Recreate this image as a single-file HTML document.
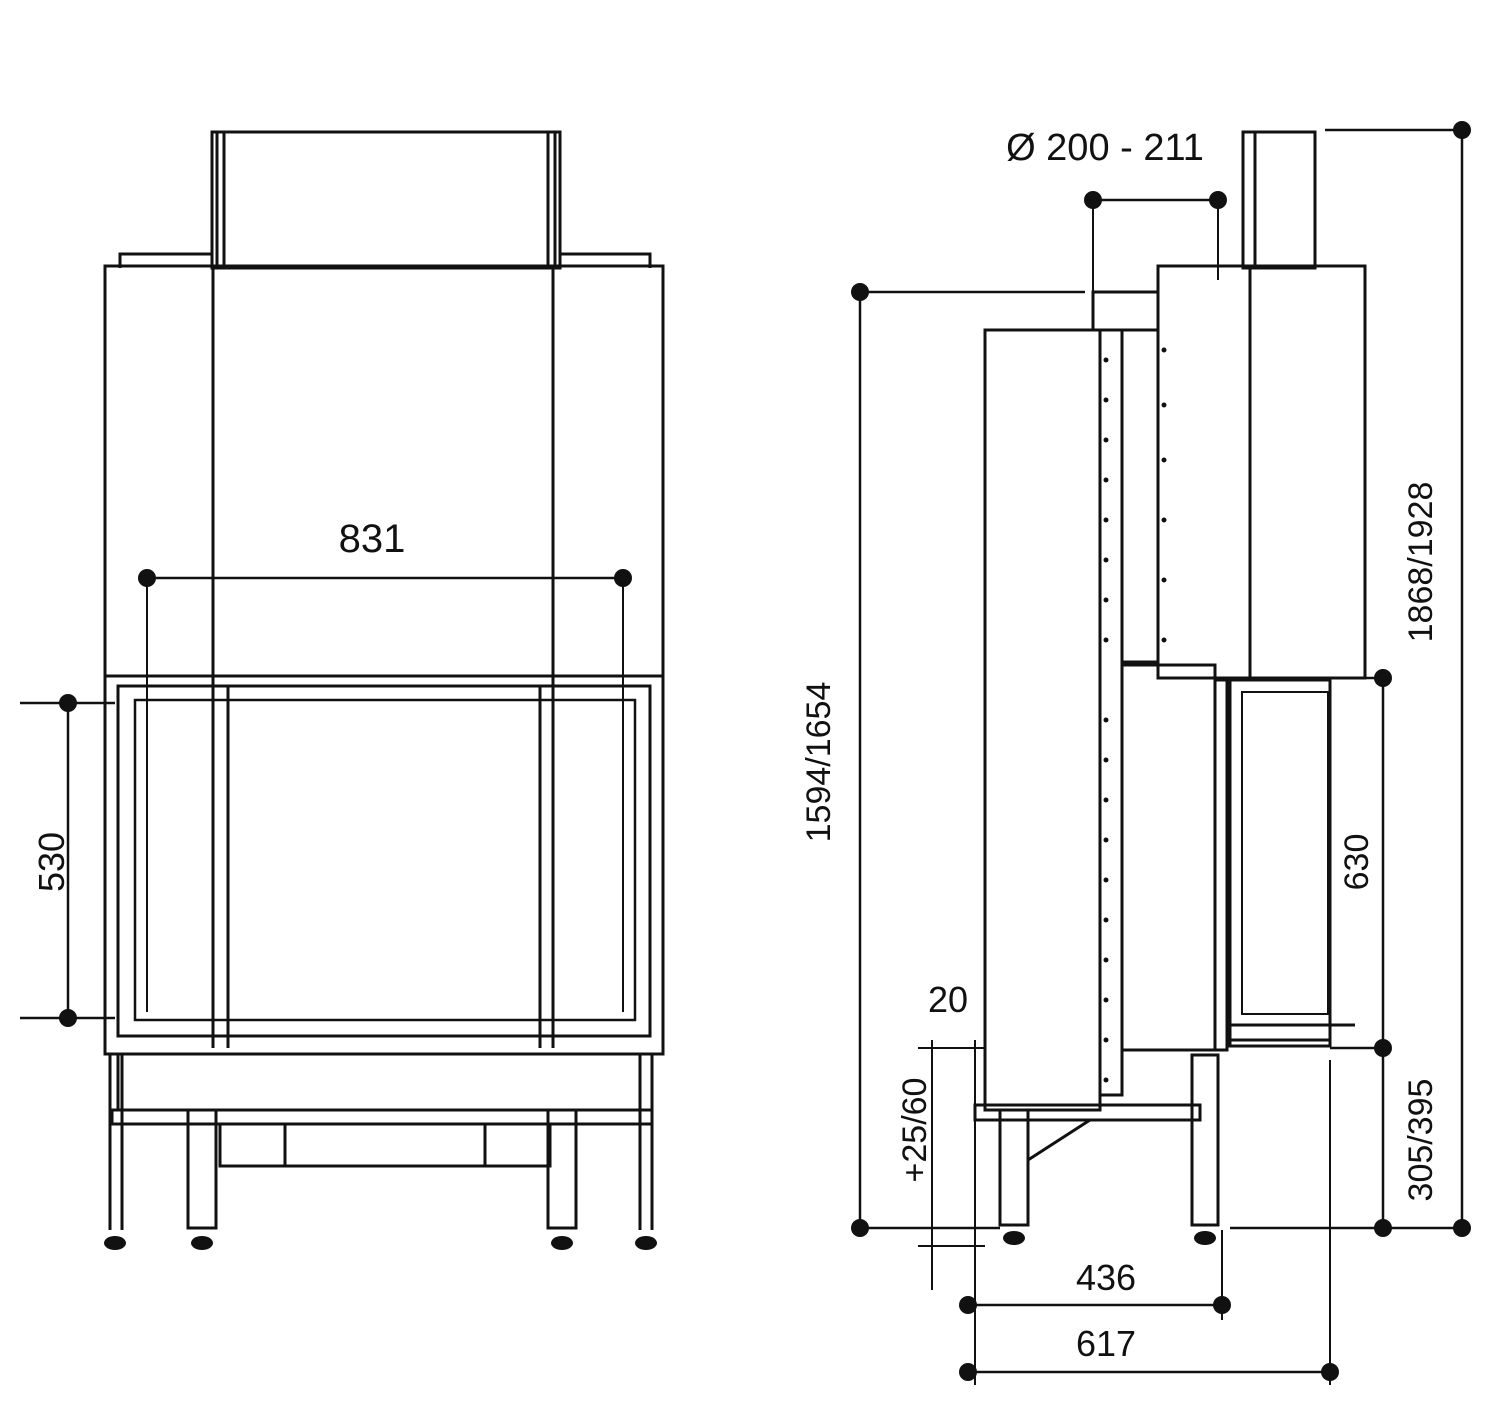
<!DOCTYPE html>
<html><head><meta charset="utf-8"><style>
html,body{margin:0;padding:0;background:#fff;}
svg{display:block}
text{font-family:"Liberation Sans",sans-serif;fill:#111}
</style></head><body>
<svg width="1500" height="1427" viewBox="0 0 1500 1427" xmlns="http://www.w3.org/2000/svg">
<g fill="none" stroke="#111" stroke-width="3">
<!-- LEFT VIEW -->
<rect x="217" y="132" width="338" height="136"/>
<rect x="212" y="132" width="12" height="136"/>
<rect x="548" y="132" width="12" height="136"/>
<polyline points="120,268 120,254 212,254"/>
<polyline points="560,254 650,254 650,268"/>
<rect x="105" y="266" width="558" height="410"/>
<line x1="213" y1="266" x2="213" y2="1048"/>
<line x1="553" y1="266" x2="553" y2="1048"/>
<rect x="105" y="676" width="558" height="378"/>
<rect x="118" y="686" width="532" height="350"/>
<rect x="135" y="700" width="500" height="320" stroke-width="2.5"/>
<line x1="228" y1="686" x2="228" y2="1048"/>
<line x1="540" y1="686" x2="540" y2="1048"/>
<rect x="118" y="1054" width="522" height="56"/>
<rect x="112" y="1110" width="540" height="14"/>
<rect x="220" y="1124" width="330" height="42"/>
<line x1="285" y1="1124" x2="285" y2="1166"/>
<line x1="485" y1="1124" x2="485" y2="1166"/>
<line x1="110" y1="1054" x2="110" y2="1230"/><line x1="122" y1="1054" x2="122" y2="1230"/>
<line x1="640" y1="1054" x2="640" y2="1230"/><line x1="652" y1="1054" x2="652" y2="1230"/>
<rect x="188" y="1110" width="28" height="118"/>
<rect x="548" y="1110" width="28" height="118"/>
<line x1="138" y1="578" x2="628" y2="578" stroke-width="2.5"/>
<line x1="147" y1="578" x2="147" y2="1012" stroke-width="2"/>
<line x1="623" y1="578" x2="623" y2="1012" stroke-width="2"/>
<line x1="20" y1="703" x2="115" y2="703" stroke-width="2.5"/>
<line x1="20" y1="1018" x2="115" y2="1018" stroke-width="2.5"/>
<line x1="68" y1="703" x2="68" y2="1018" stroke-width="2.5"/>

<!-- RIGHT VIEW -->
<rect x="1243" y="132" width="72" height="136"/>
<line x1="1255" y1="132" x2="1255" y2="268"/>
<rect x="1158" y="266" width="207" height="412"/>
<line x1="1250" y1="266" x2="1250" y2="678"/>
<rect x="985" y="330" width="115" height="780"/>
<rect x="1093" y="292" width="65" height="38"/>
<rect x="1100" y="330" width="22" height="765"/>
<rect x="1122" y="330" width="36" height="332"/>
<rect x="1122" y="665" width="93" height="385"/>
<rect x="1215" y="680" width="12" height="370"/>
<rect x="1230" y="680" width="100" height="366"/>
<rect x="1242" y="692" width="86" height="322" stroke-width="2"/>
<line x1="1230" y1="1025" x2="1355" y2="1025"/>
<line x1="1230" y1="1040" x2="1330" y2="1040"/>
<rect x="975" y="1105" width="225" height="15"/>
<rect x="1000" y="1110" width="28" height="115"/>
<rect x="1192" y="1055" width="26" height="170"/>
<polyline points="1028,1160 1090,1120"/>
<line x1="860" y1="292" x2="1085" y2="292" stroke-width="2.5"/>
<line x1="860" y1="292" x2="860" y2="1228" stroke-width="2.5"/>
<line x1="855" y1="1228" x2="1000" y2="1228" stroke-width="2.5"/>
<line x1="1325" y1="130" x2="1462" y2="130" stroke-width="2.5"/>
<line x1="1462" y1="130" x2="1462" y2="1228" stroke-width="2.5"/>
<line x1="1230" y1="1228" x2="1462" y2="1228" stroke-width="2.5"/>
<line x1="1383" y1="678" x2="1383" y2="1228" stroke-width="2.5"/>
<line x1="1340" y1="678" x2="1383" y2="678" stroke-width="2.5"/>
<line x1="1330" y1="1048" x2="1383" y2="1048" stroke-width="2.5"/>
<line x1="1093" y1="200" x2="1218" y2="200" stroke-width="2.5"/>
<line x1="1093" y1="200" x2="1093" y2="292" stroke-width="2"/>
<line x1="1218" y1="200" x2="1218" y2="280" stroke-width="2"/>
<line x1="968" y1="1305" x2="1222" y2="1305" stroke-width="2.5"/>
<line x1="968" y1="1372" x2="1330" y2="1372" stroke-width="2.5"/>
<line x1="975" y1="1040" x2="975" y2="1385" stroke-width="2"/>
<line x1="1222" y1="1230" x2="1222" y2="1320" stroke-width="2"/>
<line x1="1330" y1="1060" x2="1330" y2="1385" stroke-width="2"/>
<line x1="932" y1="1040" x2="932" y2="1290" stroke-width="2"/>
<line x1="918" y1="1048" x2="985" y2="1048" stroke-width="2"/>
<line x1="918" y1="1246" x2="985" y2="1246" stroke-width="2"/>
</g>
<g fill="#111">
<circle cx="147" cy="578" r="9"/><circle cx="623" cy="578" r="9"/>
<circle cx="68" cy="703" r="9"/><circle cx="68" cy="1018" r="9"/>
<circle cx="860" cy="292" r="9"/><circle cx="860" cy="1228" r="9"/>
<circle cx="1462" cy="130" r="9"/><circle cx="1462" cy="1228" r="9"/>
<circle cx="1383" cy="678" r="9"/><circle cx="1383" cy="1048" r="9"/><circle cx="1383" cy="1228" r="9"/>
<circle cx="1093" cy="200" r="9"/><circle cx="1218" cy="200" r="9"/>
<circle cx="968" cy="1305" r="9"/><circle cx="1222" cy="1305" r="9"/>
<circle cx="968" cy="1372" r="9"/><circle cx="1330" cy="1372" r="9"/>
<ellipse cx="115" cy="1243" rx="11" ry="7"/><ellipse cx="202" cy="1243" rx="11" ry="7"/>
<ellipse cx="562" cy="1243" rx="11" ry="7"/><ellipse cx="646" cy="1243" rx="11" ry="7"/>
<ellipse cx="1014" cy="1238" rx="11" ry="7"/><ellipse cx="1205" cy="1238" rx="11" ry="7"/>
<g>
<circle cx="1106" cy="360" r="2.5"/><circle cx="1106" cy="400" r="2.5"/><circle cx="1106" cy="440" r="2.5"/><circle cx="1106" cy="480" r="2.5"/><circle cx="1106" cy="520" r="2.5"/><circle cx="1106" cy="560" r="2.5"/><circle cx="1106" cy="600" r="2.5"/><circle cx="1106" cy="640" r="2.5"/><circle cx="1106" cy="720" r="2.5"/><circle cx="1106" cy="760" r="2.5"/><circle cx="1106" cy="800" r="2.5"/><circle cx="1106" cy="840" r="2.5"/><circle cx="1106" cy="880" r="2.5"/><circle cx="1106" cy="920" r="2.5"/><circle cx="1106" cy="960" r="2.5"/><circle cx="1106" cy="1000" r="2.5"/><circle cx="1106" cy="1040" r="2.5"/><circle cx="1106" cy="1080" r="2.5"/>
<circle cx="1164" cy="350" r="2.5"/><circle cx="1164" cy="405" r="2.5"/><circle cx="1164" cy="460" r="2.5"/><circle cx="1164" cy="520" r="2.5"/><circle cx="1164" cy="580" r="2.5"/><circle cx="1164" cy="640" r="2.5"/>
</g>
</g>
<text x="372" y="552" font-size="40" text-anchor="middle">831</text>
<text transform="translate(64,862) rotate(-90)" font-size="36" text-anchor="middle">530</text>
<text x="1105" y="160" font-size="38" text-anchor="middle">Ø 200 - 211</text>
<text transform="translate(1432,562) rotate(-90)" font-size="34" text-anchor="middle">1868/1928</text>
<text transform="translate(830,762) rotate(-90)" font-size="34" text-anchor="middle">1594/1654</text>
<text transform="translate(1368,862) rotate(-90)" font-size="34" text-anchor="middle">630</text>
<text transform="translate(1432,1140) rotate(-90)" font-size="34" text-anchor="middle">305/395</text>
<text transform="translate(926,1130) rotate(-90)" font-size="34" text-anchor="middle">+25/60</text>
<text x="948" y="1012" font-size="36" text-anchor="middle">20</text>
<text x="1106" y="1290" font-size="36" text-anchor="middle">436</text>
<text x="1106" y="1356" font-size="36" text-anchor="middle">617</text>
</svg>
</body></html>
